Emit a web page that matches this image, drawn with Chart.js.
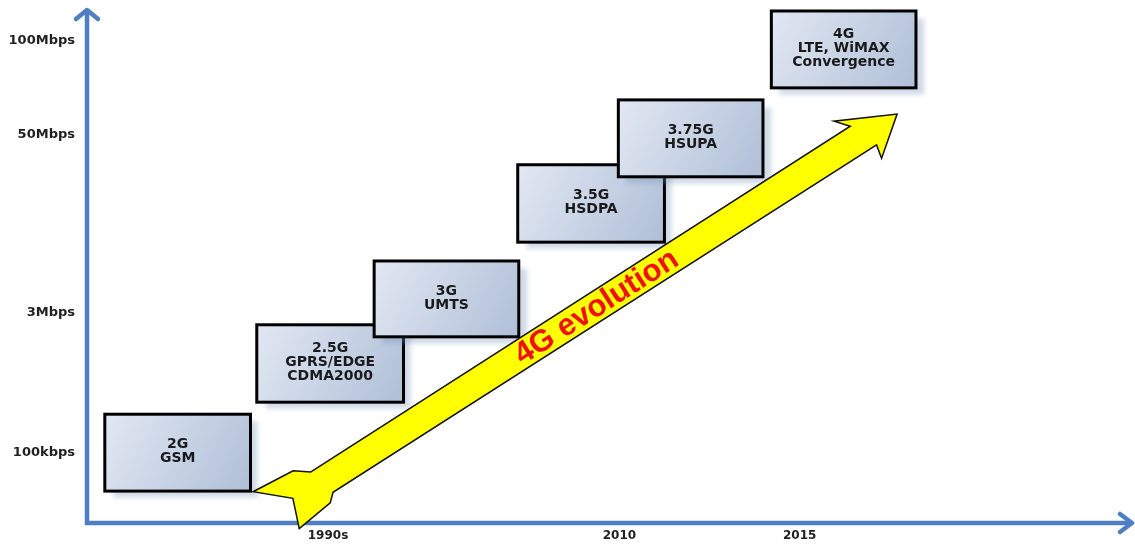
<!DOCTYPE html>
<html>
<head>
<meta charset="utf-8">
<title>4G evolution</title>
<script src="https://cdn.jsdelivr.net/npm/chart.js@4.4.1/dist/chart.umd.min.js"></script>
<style>
  body{margin:0;background:#fff;}
  #wrap{width:1135px;height:544px;}
</style>
</head>
<body>
<div id="wrap"><canvas id="myChart"></canvas></div>
<script>
// axis ticks
const eraLabels=['1990s','2010','2015'];
const eraValues=[23.0,50.8,68.0];
const speedLabels=['100kbps','3Mbps','50Mbps','100Mbps'];
const speedValues=[13.4,40.3,74.2,92.2];

// one box per generation: time span (x) and speed span (y)
const generations=['2G','2.5G','3G','3.5G','3.75G','4G'];
const technologies=[['GSM'],['GPRS/EDGE','CDMA2000'],['UMTS'],['HSDPA'],['HSUPA'],['LTE, WiMAX','Convergence']];
const timeFrom=[1.7,16.2,27.4,41.1,50.7,65.3];
const timeTo=[15.6,30.2,41.2,55.1,64.5,79.1];
const rateFrom=[6.1,23.1,35.6,53.7,66.2,83.2];
const rateTo=[20.8,37.9,50.1,68.5,80.9,97.9];

// the big yellow trend arrow
const trendLabel='4G evolution';
const trendFrom=[22.4,7.8];
const trendTo=[77.3,78.2];

Chart.defaults.font.family='"DejaVu Sans", sans-serif';

const diagram={
  id:'diagram',
  afterDraw(chart){
    const ctx=chart.ctx, x=chart.scales.x, y=chart.scales.y, area=chart.chartArea;

    // axes with open arrow heads
    ctx.save();
    ctx.strokeStyle='#4f7fc3';
    ctx.lineWidth=4.5;
    ctx.lineJoin='miter';
    ctx.beginPath();
    ctx.moveTo(area.left,area.top+10);
    ctx.lineTo(area.left,area.bottom);
    ctx.lineTo(area.right-3,area.bottom);
    ctx.stroke();
    ctx.lineCap='round';
    ctx.lineJoin='round';
    ctx.beginPath();
    ctx.moveTo(area.left-11,area.top+19);
    ctx.lineTo(area.left,area.top+10);
    ctx.lineTo(area.left+11,area.top+19);
    ctx.stroke();
    ctx.beginPath();
    ctx.moveTo(area.right-15,area.bottom-9);
    ctx.lineTo(area.right-3,area.bottom);
    ctx.lineTo(area.right-15,area.bottom+9);
    ctx.stroke();
    ctx.restore();

    // generation boxes
    for(let i=0;i<generations.length;i++){
      const l=x.getPixelForValue(timeFrom[i]), r=x.getPixelForValue(timeTo[i]);
      const t=y.getPixelForValue(rateTo[i]), b=y.getPixelForValue(rateFrom[i]);
      ctx.save();
      ctx.shadowColor='rgba(120,145,185,0.35)';
      ctx.shadowBlur=5;
      ctx.shadowOffsetX=8;
      ctx.shadowOffsetY=7;
      const g=ctx.createLinearGradient(l,t,r,b);
      g.addColorStop(0,'#e2e8f3');
      g.addColorStop(1,'#afbfd7');
      ctx.fillStyle=g;
      ctx.fillRect(l,t,r-l,b-t);
      ctx.restore();
      ctx.strokeStyle='#000';
      ctx.lineWidth=3;
      ctx.strokeRect(l,t,r-l,b-t);

      const lines=[generations[i]].concat(technologies[i]);
      ctx.fillStyle='#1a1a1a';
      ctx.font='bold 14px "DejaVu Sans", sans-serif';
      ctx.textAlign='center';
      ctx.textBaseline='middle';
      const cx=(l+r)/2, cy=(t+b)/2, lh=14;
      lines.forEach((s,k)=>{
        ctx.fillText(s,cx,cy+(k-(lines.length-1)/2)*lh-1);
      });
    }

    // trend arrow
    const sx=x.getPixelForValue(trendFrom[0]), sy=y.getPixelForValue(trendFrom[1]);
    const ex=x.getPixelForValue(trendTo[0]), ey=y.getPixelForValue(trendTo[1]);
    const len=Math.hypot(ex-sx,ey-sy);
    const ux=(ex-sx)/len, uy=(ey-sy)/len, nx=-uy, ny=ux;
    const fromStart=(s,n)=>[sx+ux*s+nx*n, sy+uy*s+ny*n];
    const fromEnd=(s,n)=>[ex+ux*s+nx*n, ey+uy*s+ny*n];
    const pts=[
      fromStart(-4,-14.6),
      fromEnd(-46,-15),
      fromEnd(-57,-28),
      fromEnd(0,0),
      fromEnd(-37,29),
      fromEnd(-34,15),
      fromStart(4,14.6),
      fromStart(-4,22),
      fromStart(-44,27),
      fromStart(-33,-2),
      fromStart(-63,-29),
      fromStart(-18,-25)
    ];
    ctx.save();
    ctx.beginPath();
    pts.forEach((p,k)=>k?ctx.lineTo(p[0],p[1]):ctx.moveTo(p[0],p[1]));
    ctx.closePath();
    ctx.fillStyle='#ffff00';
    ctx.fill();
    ctx.strokeStyle='#111';
    ctx.lineWidth=1.5;
    ctx.lineJoin='miter';
    ctx.stroke();

    ctx.translate(sx+ux*len*0.477, sy+uy*len*0.477);
    ctx.rotate(Math.atan2(uy,ux));
    ctx.fillStyle='#f01010';
    ctx.font='bold 31px "Liberation Sans", Arial, sans-serif';
    ctx.textAlign='center';
    ctx.textBaseline='middle';
    ctx.fillText(trendLabel,0,1);
    ctx.restore();
  }
};

new Chart(document.getElementById('myChart'),{
  type:'scatter',
  data:{datasets:[{data:[],pointRadius:0}]},
  options:{
    responsive:true,
    maintainAspectRatio:false,
    animation:false,
    layout:{padding:0,autoPadding:false},
    plugins:{legend:{display:false},tooltip:{enabled:false}},
    scales:{
      x:{
        type:'linear',min:0,max:100,
        grid:{display:false,drawTicks:false},
        border:{display:false},
        afterBuildTicks:s=>{s.ticks=eraValues.map(v=>({value:v}));},
        ticks:{padding:6,color:'#222',autoSkip:false,maxRotation:0,
          font:{size:12,weight:'bold'},
          callback:(v,i)=>eraLabels[i]},
        afterFit:s=>{s.height=21;s.paddingLeft=0;s.paddingRight=0;}
      },
      y:{
        type:'linear',min:0,max:100,
        grid:{display:false,drawTicks:false},
        border:{display:false},
        afterBuildTicks:s=>{s.ticks=speedValues.map(v=>({value:v}));},
        ticks:{padding:12,color:'#222',autoSkip:false,
          font:{size:13,weight:'bold'},
          callback:(v,i)=>speedLabels[i]},
        afterFit:s=>{s.width=87;s.paddingTop=0;s.paddingBottom=0;}
      }
    }
  },
  plugins:[diagram]
});
</script>
</body>
</html>
